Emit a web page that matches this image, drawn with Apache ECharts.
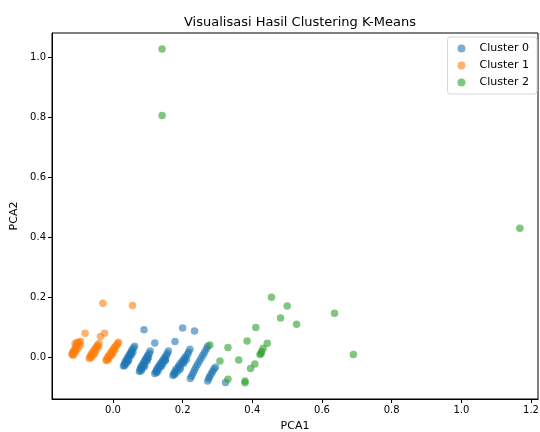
<!DOCTYPE html>
<html>
<head>
<meta charset="utf-8">
<script src="https://cdn.jsdelivr.net/npm/echarts@6/dist/echarts.min.js"></script>
<style>html,body{margin:0;padding:0;background:#fff;}#c{width:540px;height:432px;}</style>
</head>
<body>
<div id="c"></div>
<script>
const titleText = "Visualisasi Hasil Clustering K-Means";
const xLabel = "PCA1";
const yLabel = "PCA2";
const seriesNames = ["Cluster 0", "Cluster 1", "Cluster 2"];
const xTicks = [0.0, 0.2, 0.4, 0.6, 0.8, 1.0, 1.2];
const yTicks = [0.0, 0.2, 0.4, 0.6, 0.8, 1.0];

const cluster0 = [
  [0.030,-0.030],[0.033,-0.024],[0.035,-0.018],[0.037,-0.012],[0.039,-0.020],[0.041,-0.006],[0.043,0.000],[0.045,-0.008],[0.047,0.006],[0.049,0.012],[0.051,0.004],[0.053,0.018],[0.055,0.024],[0.057,0.016],[0.059,0.030],[0.062,0.036],[0.034,-0.028],[0.044,-0.014],[0.052,0.010],
  [0.076,-0.048],[0.078,-0.042],[0.080,-0.036],[0.082,-0.030],[0.084,-0.038],[0.086,-0.024],[0.088,-0.018],[0.090,-0.026],[0.092,-0.012],[0.094,-0.006],[0.096,-0.014],[0.098,0.000],[0.100,0.006],[0.102,-0.002],[0.104,0.012],[0.107,0.020],[0.081,-0.046],[0.091,-0.032],[0.099,-0.010],
  [0.120,-0.055],[0.123,-0.049],[0.125,-0.043],[0.128,-0.037],[0.130,-0.045],[0.132,-0.031],[0.135,-0.025],[0.137,-0.033],[0.139,-0.019],[0.142,-0.013],[0.144,-0.021],[0.146,-0.007],[0.149,-0.001],[0.151,-0.009],[0.153,0.005],[0.156,0.012],[0.159,0.020],[0.126,-0.052],[0.140,-0.028],[0.150,-0.012],
  [0.172,-0.062],[0.175,-0.055],[0.178,-0.048],[0.181,-0.041],[0.184,-0.050],[0.187,-0.034],[0.190,-0.027],[0.193,-0.036],[0.196,-0.020],[0.199,-0.013],[0.202,-0.022],[0.205,-0.006],[0.208,0.001],[0.211,-0.008],[0.214,0.008],[0.217,0.016],[0.221,0.026],[0.177,-0.058],[0.192,-0.042],[0.204,-0.016],
  [0.222,-0.072],[0.226,-0.063],[0.230,-0.053],[0.234,-0.044],[0.238,-0.034],[0.243,-0.024],[0.248,-0.014],[0.253,-0.004],[0.258,0.006],[0.263,0.016],[0.268,0.027],[0.272,0.036],
  [0.272,-0.080],[0.275,-0.072],[0.278,-0.064],[0.282,-0.056],[0.286,-0.048],[0.290,-0.040],[0.294,-0.034],
  [0.089,0.091],[0.120,0.047],[0.178,0.052],[0.200,0.097],[0.234,0.087],[0.323,-0.085]
];
const cluster1 = [
  [-0.118,0.008],[-0.116,0.012],[-0.115,0.016],[-0.113,0.020],[-0.112,0.010],[-0.110,0.025],[-0.108,0.030],[-0.107,0.018],[-0.105,0.035],[-0.103,0.040],[-0.101,0.028],[-0.099,0.045],[-0.097,0.050],[-0.095,0.038],[-0.093,0.052],[-0.104,0.048],[-0.109,0.044],[-0.114,0.006],[-0.106,0.024],
  [-0.068,-0.005],[-0.066,0.000],[-0.064,0.005],[-0.062,0.010],[-0.060,0.003],[-0.058,0.015],[-0.056,0.020],[-0.054,0.012],[-0.052,0.025],[-0.050,0.030],[-0.048,0.022],[-0.046,0.035],[-0.044,0.040],[-0.042,0.033],[-0.040,0.045],[-0.063,-0.002],[-0.055,0.008],
  [-0.020,-0.012],[-0.018,-0.008],[-0.016,-0.003],[-0.014,0.002],[-0.012,-0.005],[-0.010,0.006],[-0.008,0.012],[-0.006,0.004],[-0.004,0.017],[-0.002,0.022],[0.000,0.014],[0.002,0.027],[0.004,0.032],[0.006,0.024],[0.008,0.037],[0.011,0.040],[0.014,0.045],[-0.015,-0.010],[-0.003,0.008],
  [-0.029,0.179],[0.056,0.172],[-0.080,0.079],[-0.024,0.079],[-0.036,0.068],[0.016,0.049]
];
const cluster2 = [
  [0.141,1.027],[0.141,0.805],[1.168,0.429],[0.690,0.008],[0.636,0.146],[0.527,0.109],[0.500,0.170],[0.481,0.130],[0.455,0.199],[0.410,0.098],[0.385,0.053],[0.443,0.046],[0.431,0.029],[0.427,0.018],[0.422,0.008],[0.425,0.012],[0.361,-0.010],[0.307,-0.013],[0.330,0.032],[0.278,0.040],[0.407,-0.023],[0.395,-0.038],[0.379,-0.080],[0.379,-0.086],[0.330,-0.074]
];

const colors = ["#1f77b4", "#ff7f0e", "#2ca02c"];
const font = "DejaVu Sans";
const chart = echarts.init(document.getElementById('c'), null, {renderer: 'canvas'});
const mk = (name, data, color) => ({
  name, type: 'scatter', data, symbol: 'circle', symbolSize: 7.5,
  itemStyle: {color, opacity: 0.6}, emphasis: {disabled: true}, animation: false
});
chart.setOption({
  animation: false,
  title: {text: titleText, left: 295, textAlign: 'center', top: 11,
    textStyle: {fontFamily: font, fontSize: 13, fontWeight: 'normal', color: '#000'}},
  grid: {left: 52, right: 2, top: 33, bottom: 33, outerBoundsMode: 'none', containLabel: false,
    show: true, borderColor: '#000', borderWidth: 1, backgroundColor: 'transparent'},
  legend: {orient: 'vertical', right: 3, top: 37, data: seriesNames, icon: 'circle',
    itemWidth: 8, itemHeight: 8, itemGap: 6, padding: [6, 8, 6, 10],
    borderColor: '#d6d6d6', borderWidth: 1, borderRadius: 3, backgroundColor: '#fff',
    textStyle: {fontFamily: font, fontSize: 11, color: '#000', padding: [0, 0, 0, 9]}},
  xAxis: {type: 'value', min: -0.175, max: 1.22, name: xLabel, nameLocation: 'middle', nameGap: 22,
    nameTextStyle: {fontFamily: font, fontSize: 11, color: '#000'},
    splitLine: {show: false},
    axisLine: {show: true, onZero: false, lineStyle: {color: '#000'}},
    axisTick: {show: true, length: 4, customValues: xTicks, lineStyle: {color: '#000'}},
    axisLabel: {customValues: xTicks, formatter: v => v.toFixed(1), fontFamily: font, fontSize: 10, color: '#000', margin: 6}},
  yAxis: {type: 'value', min: -0.14, max: 1.08, name: yLabel, nameLocation: 'middle', nameGap: 30,
    nameTextStyle: {fontFamily: font, fontSize: 11, color: '#000'},
    splitLine: {show: false},
    axisLine: {show: true, onZero: false, lineStyle: {color: '#000'}},
    axisTick: {show: true, length: 4, customValues: yTicks, lineStyle: {color: '#000'}},
    axisLabel: {customValues: yTicks, formatter: v => v.toFixed(1), fontFamily: font, fontSize: 10, color: '#000', margin: 6}},
  series: [mk(seriesNames[0], cluster0, colors[0]), mk(seriesNames[1], cluster1, colors[1]), mk(seriesNames[2], cluster2, colors[2])]
});
</script>
</body>
</html>
